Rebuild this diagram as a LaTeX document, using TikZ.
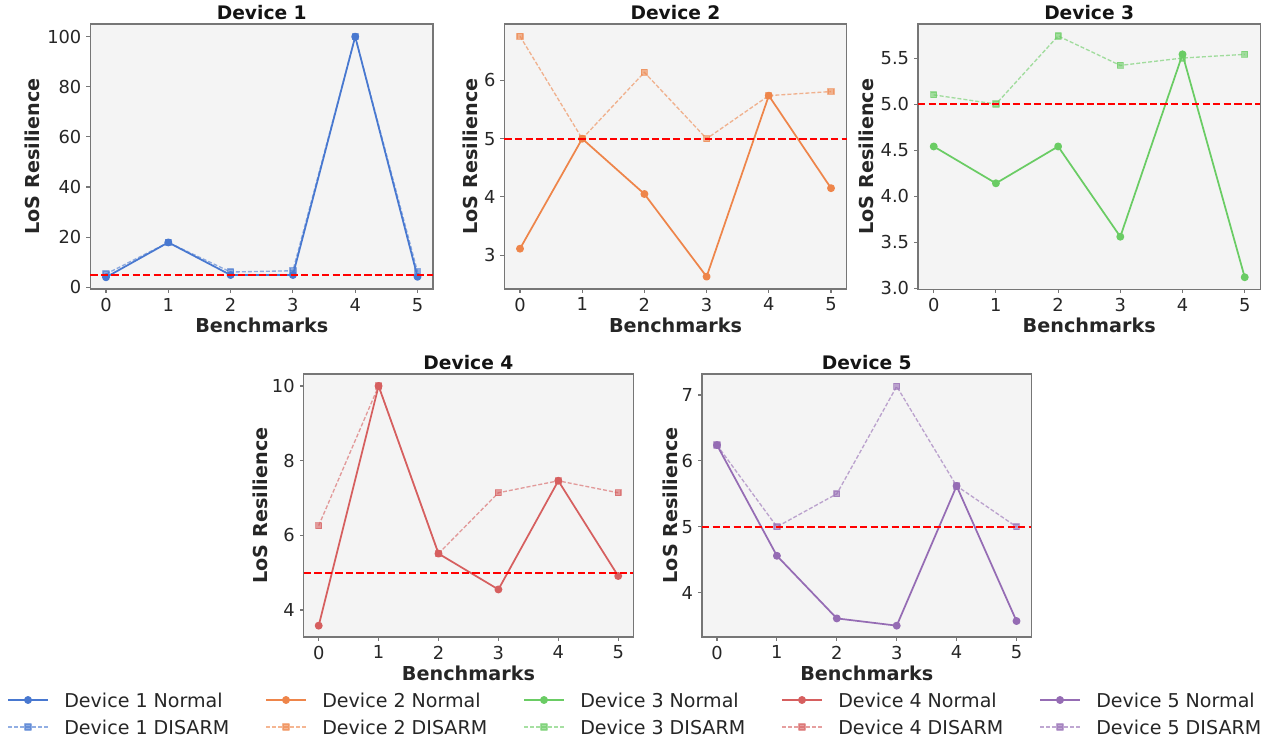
\documentclass[tikz,border=0pt]{standalone}
\usepackage{fontspec}
\setmainfont{DejaVu Sans}
\usetikzlibrary{plotmarks}
\definecolor{devBlue}{HTML}{4878D0}
\definecolor{devOrange}{HTML}{EE854A}
\definecolor{devGreen}{HTML}{6ACC64}
\definecolor{devRed}{HTML}{D65F5F}
\definecolor{devPurple}{HTML}{956CB4}
\definecolor{panelGray}{RGB}{244,244,244}
\definecolor{frameGray}{RGB}{118,118,118}
\definecolor{inkGray}{RGB}{38,38,38}
\definecolor{titleInk}{RGB}{20,20,20}
\tikzset{
  panelframe/.style={draw=frameGray,fill=panelGray,line width=1pt},
  tickmark/.style={draw=frameGray,line width=0.8pt},
  ticklabel/.style={text=inkGray,inner sep=0pt,font=\fontsize{13.4}{13.4}\selectfont},
  axislabel/.style={text=inkGray,inner sep=0pt,font=\bfseries\fontsize{14.4}{14.4}\selectfont},
  paneltitle/.style={text=titleInk,inner sep=0pt,font=\bfseries\fontsize{14}{14}\selectfont},
  legendtext/.style={text=inkGray,inner sep=0pt,anchor=west,font=\fontsize{14.3}{14.3}\selectfont},
  normalline/.style={line width=1.3pt,line join=round,mark=*,mark size=2.3pt},
  disarmline/.style={line width=1pt,line join=round,opacity=0.6,dash pattern=on 3pt off 1.5pt,
    mark=square*,mark size=2.2pt,mark options={solid}},
  threshold/.style={draw=red,line width=1.5pt,dash pattern=on 5.5pt off 2.4pt},
}
% frame, x ticks, title and x label of one panel
\newcommand{\PanelFrame}[4]{%
  \draw[panelframe] (-0.25,#2) rectangle (5.25,#3);
  \foreach \t in {0,...,5}{%
    \draw[tickmark] (\t,#2) -- ++(0,-3pt);
    \node[ticklabel,anchor=north,yshift=-6.6pt] (#1x\t) at (\t,#2) {\t};
  }
  \node[paneltitle,yshift=8.8pt] (#1title) at (2.5,#3) {#4};
  \node[axislabel,yshift=-27pt] (#1xlabel) at (2.5,#2) {Benchmarks};
}
% y ticks and y label
\newcommand{\PanelYTicks}[4]{%
  \foreach \t [count=\k] in {#2}{%
    \draw[tickmark] (-0.25,\t) -- ++(-3pt,0);
    \node[ticklabel,anchor=east,xshift=-6.6pt] (#1y\k) at (-0.25,\t) {\t};
  }
  \node[axislabel,xshift=-#4,rotate=90] (#1ylabel) at (-0.25,#3) {LoS Resilience};
}
\newcommand{\PanelRuns}[3]{%
  \draw[normalline,#1] plot coordinates {#2};
  \draw[disarmline,#1] plot coordinates {#3};
  \draw[threshold] (-0.25,5) -- (5.25,5);
}

\begin{document}
\begin{tikzpicture}[x=0.75pt,y=0.75pt]
\path[use as bounding box] (0,0) rectangle (1276,743);

% Device 1
\begin{scope}[shift={(106,455.7)},x=46.725pt,y=1.88pt]
  \PanelFrame{p1}{-0.68}{105.0}{Device 1}
  \PanelYTicks{p1}{0,20,40,60,80,100}{52.16}{43.4pt}
  \PanelRuns{devBlue}{(0,4.0) (1,17.9) (2,4.9) (3,4.9) (4,100) (5,4.2)}
    {(0,5.3) (1,17.9) (2,6.1) (3,6.6) (4,100) (5,6.2)}
\end{scope}

% Device 2
\begin{scope}[shift={(520,313.3)},x=46.65pt,y=43.65pt]
  \PanelFrame{p2}{2.42}{6.97}{Device 2}
  \PanelYTicks{p2}{3,4,5,6}{4.695}{25.3pt}
  \PanelRuns{devOrange}{(0,3.11) (1,5.0) (2,4.05) (3,2.63) (4,5.74) (5,4.15)}
    {(0,6.76) (1,5.0) (2,6.14) (3,5.0) (4,5.74) (5,5.81)}
\end{scope}

% Device 3
\begin{scope}[shift={(933.7,178.4)},x=46.65pt,y=69.075pt]
  \PanelFrame{p3}{2.99}{5.87}{Device 3}
  \PanelYTicks{p3}{3.0,3.5,4.0,4.5,5.0,5.5}{4.43}{39pt}
  \PanelRuns{devGreen}{(0,4.54) (1,4.14) (2,4.54) (3,3.56) (4,5.54) (5,3.12)}
    {(0,5.10) (1,5.0) (2,5.74) (3,5.42) (4,5.5) (5,5.54)}
\end{scope}

% Device 4
\begin{scope}[shift={(318.7,-16.32)},x=44.925pt,y=28pt]
  \PanelFrame{p4}{3.28}{10.32}{Device 4}
  \PanelYTicks{p4}{4,6,8,10}{6.8}{32.8pt}
  \PanelRuns{devRed}{(0,3.58) (1,10) (2,5.51) (3,4.55) (4,7.46) (5,4.91)}
    {(0,6.26) (1,10) (2,5.51) (3,7.14) (4,7.46) (5,7.14)}
\end{scope}

% Device 5
\begin{scope}[shift={(717,-113.3)},x=44.925pt,y=49.425pt]
  \PanelFrame{p5}{3.33}{7.32}{Device 5}
  \PanelYTicks{p5}{4,5,6,7}{5.325}{24pt}
  \PanelRuns{devPurple}{(0,6.24) (1,4.56) (2,3.61) (3,3.50) (4,5.62) (5,3.57)}
    {(0,6.24) (1,5.0) (2,5.50) (3,7.13) (4,5.62) (5,5.0)}
\end{scope}

% legend
\foreach \c/\col/\n in {8/devBlue/1,266/devOrange/2,524/devGreen/3,782/devRed/4,1040/devPurple/5}{
  \draw[normalline,\col,mark indices={2}] plot coordinates {(\c,43) (\c+20,43) (\c+40,43)};
  \node[legendtext] (legnormal\n) at (\c+56,43) {Device \n\ Normal};
  \draw[disarmline,\col,mark indices={2}] plot coordinates {(\c,16) (\c+20,16) (\c+40,16)};
  \node[legendtext] (legdisarm\n) at (\c+56,16) {Device \n\ DISARM};
}
\end{tikzpicture}
\end{document}
